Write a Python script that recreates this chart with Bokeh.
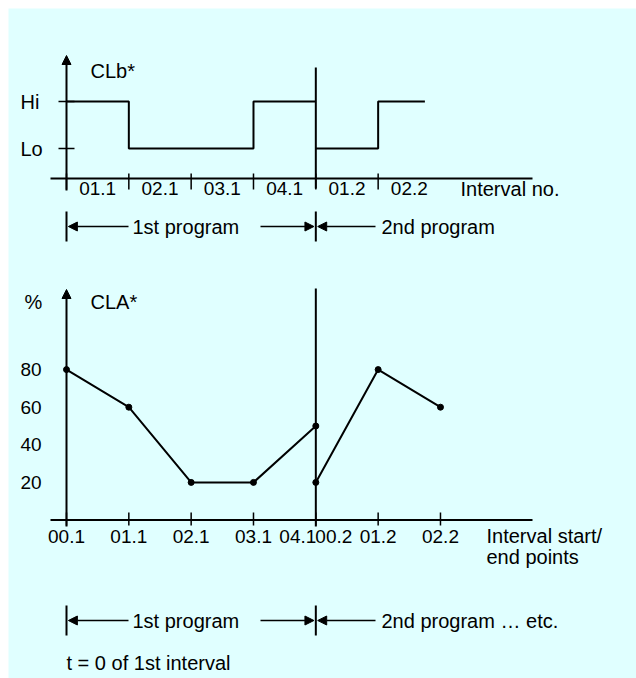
import numpy as np
from bokeh.plotting import figure
from bokeh.models import Range1d, Arrow, NormalHead
from bokeh.core.properties import value
from bokeh.embed import file_html
from bokeh.resources import INLINE

# ---------------- data ----------------
interval_labels = ["01.1", "02.1", "03.1", "04.1", "01.2", "02.2"]
interval_start = [0, 1, 2, 3, 4, 5]
interval_end = [1, 2, 3, 4, 5, 5.75]
interval_program = [1, 1, 1, 1, 2, 2]
clb_level = [1, 0, 0, 1, 0, 1]          # 1 = Hi, 0 = Lo
clb_tick_values = [1, 0]
clb_tick_labels = ["Hi", "Lo"]

point_labels = ["00.1", "01.1", "02.1", "03.1", "04.1", "00.2", "01.2", "02.2"]
point_x = [0, 1, 2, 3, 4, 4, 5, 6]
point_program = [1, 1, 1, 1, 1, 2, 2, 2]
cla_values = [80, 60, 20, 20, 50, 20, 80, 60]
cla_ticks = [20, 40, 60, 80]
program_boundary = 4

# ---------------- layout helpers ----------------
BG = "#e0ffff"
FONT = value("Liberation Sans")
M = 8                  # white margin top/left
W, H = 636, 678        # whole picture
PX = 62.33             # pixels per interval
X0 = 66                # page x of the start point


def xu(px):
    return (px - X0) / PX


# CLb scale: Hi at page y 101, Lo at page y 148
CLB_LO, CLB_PX = 148.0, 47.0
# CLA scale: 0 at page y 519.5, 1.88 px per %
CLA_0, CLA_PX = 519.5, 1.88


def clb(py):
    return (CLB_LO - py) / CLB_PX


def cla(py):
    return (CLA_0 - py) / CLA_PX


p = figure(width=W, height=H, output_backend="svg", toolbar_location=None,
           x_range=Range1d(xu(M), xu(W)), y_range=Range1d(H, M),
           x_axis_type=None, y_axis_type=None,
           min_border_left=M, min_border_top=M, min_border_right=0, min_border_bottom=0,
           outline_line_color=None, background_fill_color=BG,
           border_fill_color="white")
p.extra_y_ranges = {"clb": Range1d(clb(H), clb(M)),
                    "cla": Range1d(cla(H), cla(M))}
p.xgrid.visible = False
p.ygrid.visible = False

TXT = dict(text_font=FONT, text_font_size="19px", text_color="black",
           text_baseline="middle")
WTXT = dict(TXT, text_font_size="20px")
LW = 2


def head():
    return NormalHead(size=9, fill_color="black", line_color="black", line_width=1)


# ================= top chart: CLb* =================
p.add_layout(Arrow(end=head(), x_start=0, y_start=clb(190), x_end=0, y_end=clb(55),
                   y_range_name="clb", line_width=LW))
p.segment(x0=[xu(58)] * 2, x1=[xu(74)] * 2, y0=clb_tick_values, y1=clb_tick_values,
          y_range_name="clb", line_width=1.5, color="black")
p.text(x=[xu(20)] * 2, y=clb_tick_values, text=clb_tick_labels, y_range_name="clb",
       text_align="left", **WTXT)
p.text(x=[xu(90)], y=[70], text=["CLb*"], text_align="left", **WTXT)

# x axis
p.segment(x0=[xu(50)], x1=[xu(532)], y0=[clb(178)], y1=[clb(178)],
          y_range_name="clb", line_width=LW, color="black")
p.segment(x0=interval_start, x1=interval_start, y0=[clb(173)] * 6, y1=[clb(189)] * 6,
          y_range_name="clb", line_width=1.5, color="black")
p.text(x=[s + 0.5 for s in interval_start], y=[clb(188)] * 6, text=interval_labels,
       y_range_name="clb", text_align="center", **TXT)
p.text(x=[xu(460)], y=[clb(188)], text=["Interval no."], y_range_name="clb",
       text_align="left", **WTXT)

# step signal per program
xs, ys = [], []
for prog in sorted(set(interval_program)):
    idx = [i for i, g in enumerate(interval_program) if g == prog]
    sx, sy = [], []
    for i in idx:
        sx += [interval_start[i], interval_end[i]]
        sy += [clb_level[i], clb_level[i]]
    xs.append(sx)
    ys.append(sy)
p.multi_line(xs=xs, ys=ys, y_range_name="clb", line_width=LW, color="black")

# program boundary
p.segment(x0=[program_boundary], x1=[program_boundary], y0=[clb(67)], y1=[clb(188)],
          y_range_name="clb", line_width=LW, color="black")

# ================= bottom chart: CLA* =================
p.add_layout(Arrow(end=head(), x_start=0, y_start=cla(526), x_end=0, y_end=cla(289),
                   y_range_name="cla", line_width=LW))
p.text(x=[xu(20)] * 4, y=cla_ticks, text=[str(t) for t in cla_ticks],
       y_range_name="cla", text_align="left", **TXT)
p.text(x=[xu(24)], y=[cla(301)], text=["%"], y_range_name="cla", text_align="left", **WTXT)
p.text(x=[xu(90)], y=[cla(301)], text=["CLA*"], y_range_name="cla", text_align="left", **WTXT)

p.segment(x0=[xu(50)], x1=[xu(532)], y0=[0], y1=[0],
          y_range_name="cla", line_width=LW, color="black")
uniq_x = sorted(set(point_x))
p.segment(x0=uniq_x, x1=uniq_x, y0=[cla(512)] * len(uniq_x), y1=[cla(525)] * len(uniq_x),
          y_range_name="cla", line_width=1.5, color="black")
p.segment(x0=[program_boundary], x1=[program_boundary], y0=[cla(288)], y1=[cla(526)],
          y_range_name="cla", line_width=LW, color="black")

lx, ly = [], []
for prog in sorted(set(point_program)):
    idx = [i for i, g in enumerate(point_program) if g == prog]
    lx.append([point_x[i] for i in idx])
    ly.append([cla_values[i] for i in idx])
p.multi_line(xs=lx, ys=ly, y_range_name="cla", line_width=LW, color="black")
p.scatter(x=point_x, y=cla_values, y_range_name="cla", size=6, color="black")

# point labels (dodge labels that share a position)
offs = []
for i, x in enumerate(point_x):
    if i + 1 < len(point_x) and point_x[i + 1] == x:
        offs.append(-18)
    elif i > 0 and point_x[i - 1] == x:
        offs.append(18)
    else:
        offs.append(0)
p.text(x=point_x, y=[cla(536)] * len(point_x), text=point_labels, x_offset=offs,
       y_range_name="cla", text_align="center", **TXT)
p.text(x=[xu(486)] * 2, y=[cla(535), cla(556)], text=["Interval start/", "end points"],
       y_range_name="cla", text_align="left", **WTXT)


# ================= program arrows =================
def program_row(py, second_text):
    p.segment(x0=[0, program_boundary], x1=[0, program_boundary],
              y0=[py - 15] * 2, y1=[py + 15] * 2, line_width=LW, color="black")
    for xs_, xe_ in [(xu(128), 0.03), (xu(260), program_boundary - 0.03),
                     (xu(375), program_boundary + 0.03)]:
        p.add_layout(Arrow(end=head(), x_start=xs_, y_start=py, x_end=xe_, y_end=py,
                           line_width=1.5))
    p.text(x=[xu(132), xu(381)], y=[py, py], text=["1st program", second_text],
           text_align="left", **WTXT)


program_row(226, "2nd program")
program_row(620, "2nd program \u2026 etc.")
p.text(x=[0], y=[662], text=["t = 0 of 1st interval"], text_align="left", **WTXT)

open("out.html", "w").write(file_html(p, INLINE))
